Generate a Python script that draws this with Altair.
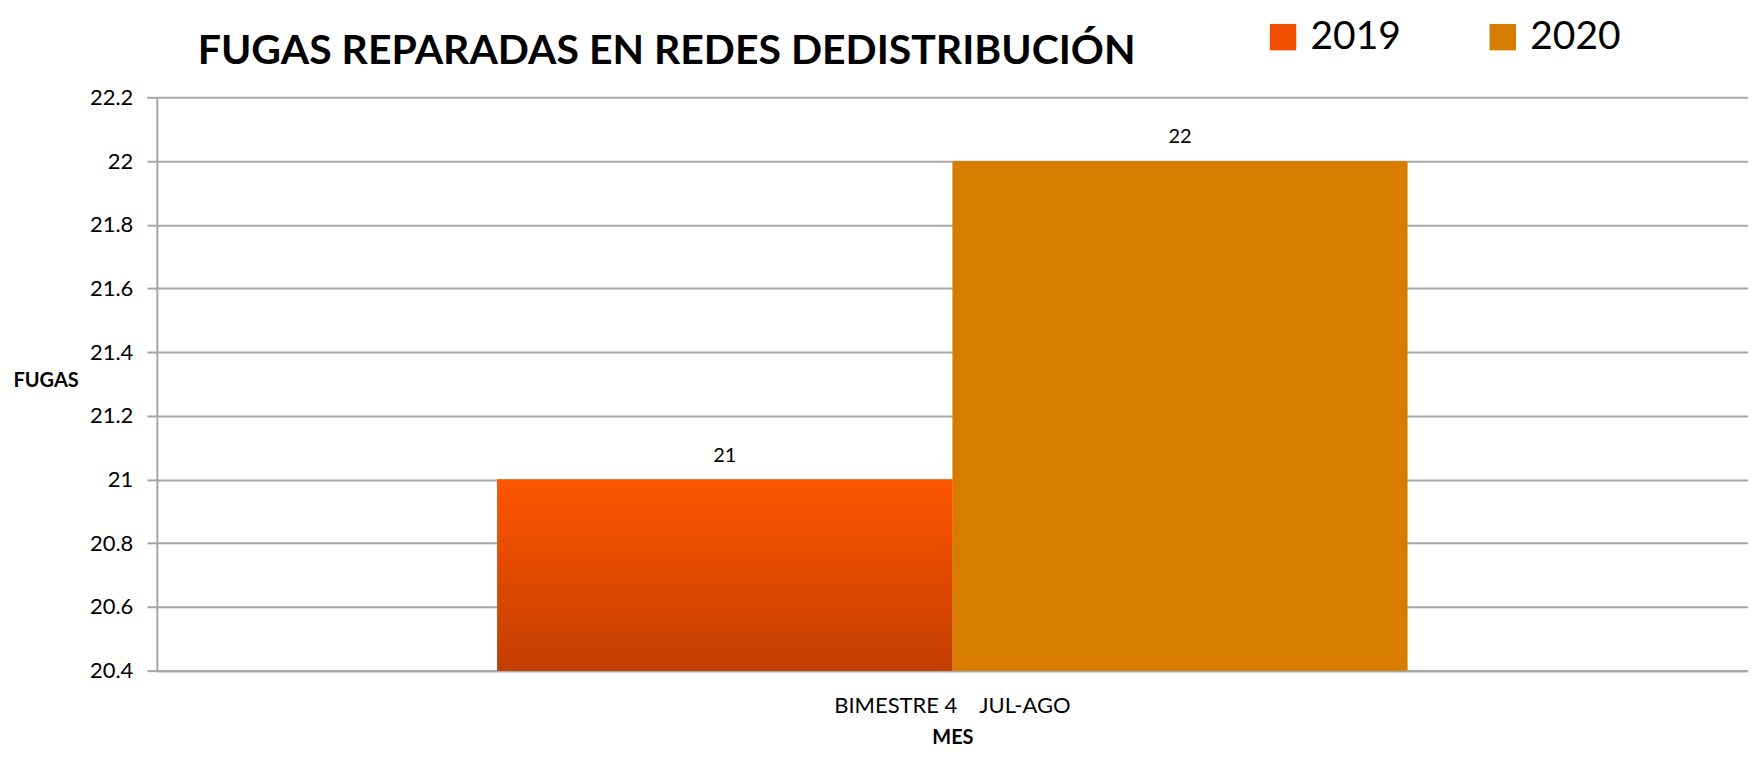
import altair as alt
import pandas as pd

categories = ["BIMESTRE 4\u00a0\u00a0\u00a0\u00a0JUL-AGO", "BIMESTRE 4\u00a0\u00a0\u00a0\u00a0JUL-AGO"]
years = ["2019", "2020"]
values = [21, 22]
y_ticks = [20.4, 20.6, 20.8, 21.0, 21.2, 21.4, 21.6, 21.8, 22.0, 22.2]

df = pd.DataFrame({"cat": categories, "year": years, "value": values})

FONT = "Lato"
GRID = "#a6a6a6"

x_enc = alt.X("cat:N", title="MES",
              scale=alt.Scale(paddingOuter=0.374, paddingInner=0),
              axis=alt.Axis(labelAngle=0, labelFontSize=22, labelFont=FONT, labelColor="#000",
                            labelPadding=25, labelLimit=0, ticks=False, domainColor=GRID, domainWidth=2,
                            titleFontSize=20, titleFont=FONT, titleFontWeight="bold",
                            titleColor="#000", titlePadding=11))
y_enc = alt.Y("value:Q", title="FUGAS",
              scale=alt.Scale(domain=[20.4, 22.2], zero=False, nice=False),
              axis=alt.Axis(values=y_ticks, labelFontSize=22, labelFont=FONT, labelColor="#000",
                            labelPadding=14, tickSize=10, tickColor=GRID, tickWidth=2,
                            domainColor=GRID, domainWidth=2, gridColor=GRID, gridWidth=2,
                            titleAngle=0, titleX=-144, titleY=284, titleAlign="left",
                            titleBaseline="middle", titleFontSize=20, titleFont=FONT,
                            titleFontWeight="bold", titleColor="#000",
                            labelExpr="format(datum.value, '.1~f')"))

base = alt.Chart(df)

bars = base.mark_bar().encode(
    x=x_enc,
    xOffset=alt.XOffset("year:N"),
    y=y_enc,
    y2=alt.datum(20.4),
    color=alt.Color("year:N", title=None,
                    scale=alt.Scale(domain=years, range=["#F05000", "#D87C00"]),
                    legend=alt.Legend(orient="none", legendX=1108, legendY=-80,
                                      direction="horizontal", symbolType="square",
                                      symbolSize=700, symbolStrokeWidth=0,
                                      labelFontSize=39, labelFont=FONT, labelColor="#000",
                                      labelOffset=8, columnPadding=82)),
)

grad = alt.Gradient(gradient="linear", x1=0, y1=0, x2=0, y2=1,
                    stops=[alt.GradientStop(offset=0, color="#FF5500"),
                           alt.GradientStop(offset=1, color="#C23E00")])

bars2019 = base.transform_filter(alt.datum.year == "2019").mark_bar(fill=grad).encode(
    x=alt.X("cat:N"),
    xOffset=alt.XOffset("year:N"),
    y=alt.Y("value:Q"),
    y2=alt.datum(20.4),
)

labels = base.mark_text(fontSize=20, font=FONT, color="#000", baseline="alphabetic", dy=-18).encode(
    x=alt.X("cat:N"),
    xOffset=alt.XOffset("year:N"),
    y=alt.Y("value:Q"),
    text=alt.Text("value:Q"),
)

chart = alt.layer(bars, bars2019, labels).properties(
    width=1593, height=574,
    title=alt.TitleParams("FUGAS REPARADAS EN REDES DEDISTRIBUCIÓN", anchor="start", dx=185,
                          offset=-56, fontSize=41, font=FONT, fontWeight="bold", color="#000"),
    autosize=alt.AutoSizeParams(type="none"),
    padding={"left": 149, "top": 89, "right": 0, "bottom": 82},
).configure_view(stroke=None).configure_axisY(grid=True).configure_axisX(grid=False)

chart.save("out.html", embed_options={"renderer": "svg", "actions": False})
